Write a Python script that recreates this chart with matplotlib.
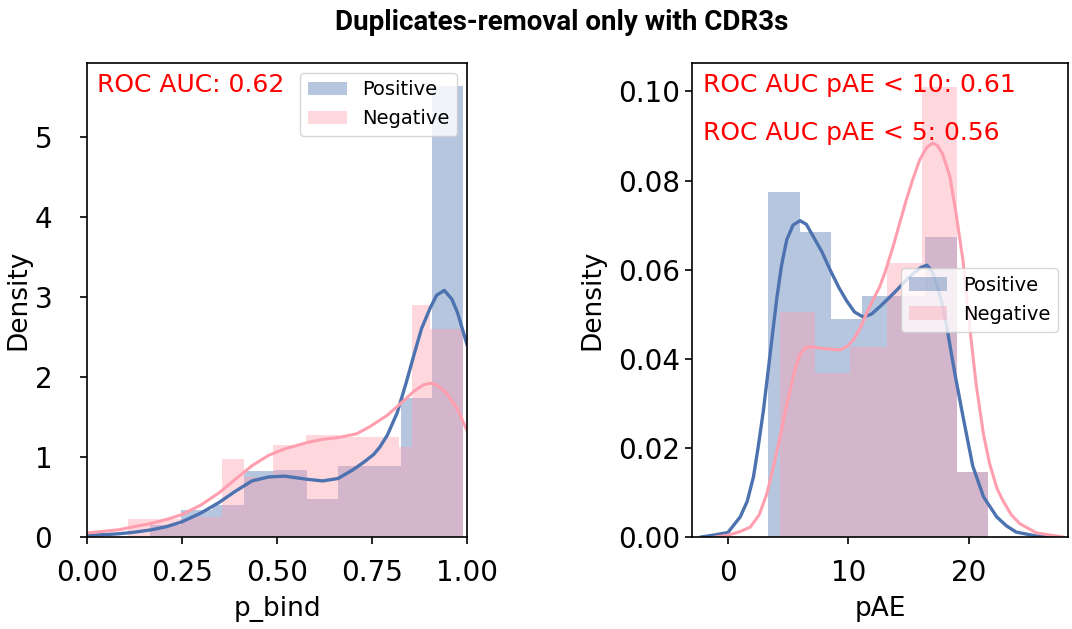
import numpy as np
import matplotlib
matplotlib.use('Agg')
import matplotlib.pyplot as plt
from matplotlib.font_manager import FontProperties

plt.rcParams['font.family'] = 'DejaVu Sans'

# ---- left panel: p_bind ----
pb_pos_edges = [0.165, 0.2475, 0.33, 0.4125, 0.495, 0.5775, 0.66, 0.7425, 0.825, 0.9075, 0.99]
pb_pos_heights = [0.15, 0.34, 0.40, 0.83, 0.84, 0.47, 0.89, 0.89, 1.73, 5.63]
pb_neg_edges = [0.109, 0.189, 0.269, 0.355, 0.412, 0.49, 0.575, 0.662, 0.74, 0.82, 0.855, 0.903, 0.99]
pb_neg_heights = [0.22, 0.22, 0.25, 0.97, 0.75, 1.15, 1.27, 1.25, 1.25, 1.12, 2.9, 2.6]

pb_pos_kde_x = [0, 0.05, 0.083, 0.125, 0.17, 0.21, 0.25, 0.30, 0.347, 0.39, 0.434, 0.478, 0.52,
                0.58, 0.62, 0.66, 0.70, 0.73, 0.754, 0.77, 0.79, 0.816, 0.84, 0.86, 0.88, 0.903,
                0.92, 0.94, 0.96, 0.975, 1.0]
pb_pos_kde_y = [0.02, 0.03, 0.04, 0.06, 0.09, 0.13, 0.19, 0.30, 0.43, 0.57, 0.70, 0.75, 0.76,
                0.72, 0.70, 0.73, 0.84, 0.94, 1.03, 1.12, 1.27, 1.55, 1.93, 2.27, 2.60, 2.86,
                3.02, 3.08, 2.97, 2.80, 2.40]
pb_neg_kde_x = [0, 0.04, 0.083, 0.125, 0.17, 0.21, 0.25, 0.30, 0.347, 0.39, 0.434, 0.478, 0.52,
                0.58, 0.62, 0.66, 0.71, 0.745, 0.79, 0.833, 0.86, 0.885, 0.903, 0.92, 0.945,
                0.974, 1.0]
pb_neg_kde_y = [0.05, 0.07, 0.09, 0.13, 0.17, 0.22, 0.28, 0.40, 0.55, 0.72, 0.89, 1.02, 1.10,
                1.18, 1.22, 1.24, 1.29, 1.38, 1.52, 1.70, 1.82, 1.90, 1.92, 1.90, 1.80,
                1.60, 1.33]

# ---- right panel: pAE ----
pae_pos_edges = [3.36, 5.96, 8.56, 11.16, 13.76, 16.36, 18.96, 21.56]
pae_pos_heights = [0.0775, 0.0685, 0.049, 0.054, 0.054, 0.0674, 0.0145]
pae_neg_edges = [4.33, 7.23, 10.12, 13.16, 16.06, 18.96, 21.57]
pae_neg_heights = [0.0506, 0.0368, 0.0427, 0.0614, 0.1011, 0.0146]

pae_pos_kde_x = [-2.2, -1.0, 0, 1.02, 1.6, 2.12, 2.5, 2.95, 3.5, 4.05, 4.45, 4.88, 5.4, 5.98,
                 6.5, 7.09, 7.8, 8.47, 9.2, 9.85, 10.5, 11.2, 11.9, 12.6, 13.3, 14.0, 14.7,
                 15.4, 16.0, 16.5, 16.9, 17.3, 17.7, 18.1, 18.8, 19.5, 20.3, 21.2, 22.3, 23.1,
                 23.9, 25.6, 27.0]
pae_pos_kde_y = [0, 0.0005, 0.001, 0.0045, 0.008, 0.0135, 0.02, 0.0285, 0.041, 0.0535, 0.061,
                 0.0667, 0.0700, 0.0710, 0.0702, 0.0674, 0.064, 0.060, 0.056, 0.053, 0.0505,
                 0.0494, 0.0500, 0.0517, 0.0535, 0.0554, 0.0574, 0.0592, 0.0605, 0.061,
                 0.0598, 0.057, 0.053, 0.048, 0.037, 0.027, 0.0160, 0.009, 0.0045, 0.0025,
                 0.0011, 0.0002, 0]
pae_neg_kde_x = [-1.0, 0, 1.0, 1.85, 2.6, 3.23, 3.8, 4.33, 4.75, 5.16, 5.6, 5.98, 6.4, 6.81,
                 7.91, 9.29, 9.9, 10.4, 11.0, 11.5, 12.0, 12.6, 13.1, 13.7, 14.2, 14.8, 15.3,
                 15.9, 16.5, 17.0, 17.4, 17.8, 18.4, 18.9, 19.5, 20.1, 20.6, 21.2, 21.7, 22.3,
                 22.8, 23.5, 24.2, 25.6, 27.8]
pae_neg_kde_y = [0, 0.0004, 0.0012, 0.0022, 0.005, 0.0097, 0.016, 0.0225, 0.028, 0.033, 0.038,
                 0.041, 0.0424, 0.0427, 0.0423, 0.0420, 0.0428, 0.0442, 0.047, 0.0502, 0.053,
                 0.0562, 0.060, 0.0652, 0.070, 0.0757, 0.080, 0.0846, 0.0875, 0.0884, 0.0878,
                 0.0860, 0.0810, 0.0730, 0.0620, 0.0460, 0.034, 0.023, 0.0165, 0.011, 0.0082,
                 0.005, 0.003, 0.0009, 0]

pos_color = '#4c72b0'
neg_color = '#ff9eae'

fig = plt.figure(figsize=(10.72, 6.29), dpi=100)
ax1 = fig.add_axes([0.0812, 0.1463, 0.3545, 0.7536])
ax2 = fig.add_axes([0.6455, 0.1463, 0.3507, 0.7536])


def draw(ax, pe, ph, ne, nh, pkx, pky, nkx, nky):
    ax.bar(pe[:-1], ph, width=np.diff(pe), align='edge', color=pos_color, alpha=0.4,
           linewidth=0, label='Positive')
    ax.plot(pkx, pky, color=pos_color, lw=2.4)
    ax.bar(ne[:-1], nh, width=np.diff(ne), align='edge', color=neg_color, alpha=0.4,
           linewidth=0, label='Negative')
    ax.plot(nkx, nky, color=neg_color, lw=2.2)
    ax.tick_params(labelsize=20, width=1.2, length=5)
    ax.tick_params(axis='x', pad=11)
    for s in ax.spines.values():
        s.set_linewidth(1.2)


draw(ax1, pb_pos_edges, pb_pos_heights, pb_neg_edges, pb_neg_heights,
     pb_pos_kde_x, pb_pos_kde_y, pb_neg_kde_x, pb_neg_kde_y)
ax1.set_xlim(0, 1)
ax1.set_ylim(0, 5.92)
ax1.set_xticks([0, 0.25, 0.5, 0.75, 1.0])
ax1.set_xticklabels(['0.00', '0.25', '0.50', '0.75', '1.00'])
ax1.set_yticks([0, 1, 2, 3, 4, 5])
ax1.tick_params(axis='y', pad=20)
ax1.set_xlabel('p_bind', fontsize=19, labelpad=6)
ax1.set_ylabel('Density', fontsize=19, labelpad=2)
ax1.legend(loc='upper right', fontsize=14)
ax1.text(0.025, 0.978, 'ROC AUC: 0.62', transform=ax1.transAxes, color='red',
         fontsize=18, va='top', ha='left')

draw(ax2, pae_pos_edges, pae_pos_heights, pae_neg_edges, pae_neg_heights,
     pae_pos_kde_x, pae_pos_kde_y, pae_neg_kde_x, pae_neg_kde_y)
ax2.set_xlim(-2.98, 28.2)
ax2.set_ylim(0, 0.1064)
ax2.set_xticks([0, 10, 20])
ax2.set_yticks([0, 0.02, 0.04, 0.06, 0.08, 0.10])
ax2.set_yticklabels(['0.00', '0.02', '0.04', '0.06', '0.08', '0.10'])
ax2.set_xlabel('pAE', fontsize=19, labelpad=6)
ax2.set_ylabel('Density', fontsize=19, labelpad=9)
ax2.legend(loc='center right', fontsize=14)
ax2.text(0.029, 0.978, 'ROC AUC pAE < 10: 0.61', transform=ax2.transAxes, color='red',
         fontsize=18, va='top', ha='left')
ax2.text(0.029, 0.878, 'ROC AUC pAE < 5: 0.56', transform=ax2.transAxes, color='red',
         fontsize=18, va='top', ha='left')

title_font = FontProperties(family='Roboto', weight='bold', size=20)
fig.text(0.524, 0.965, 'Duplicates-removal only with CDR3s', ha='center', va='center',
         fontproperties=title_font)

fig.savefig('out.png', dpi=100)
